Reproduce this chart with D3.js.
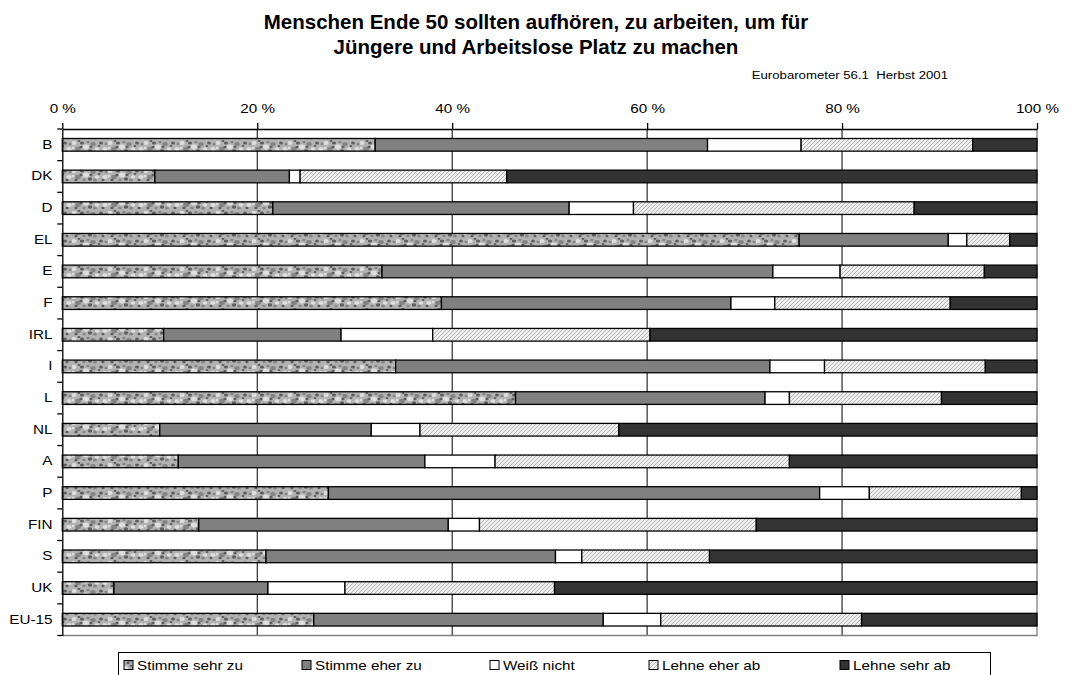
<!DOCTYPE html>
<html>
<head>
<meta charset="utf-8">
<script src="https://cdn.jsdelivr.net/npm/d3@7/dist/d3.min.js"></script>
<style>
  html, body { margin: 0; padding: 0; background: #ffffff; }
  svg { display: block; font-family: "Liberation Sans", Arial, sans-serif; }
</style>
</head>
<body>
<svg id="chart" width="1073" height="675"></svg>
<script>
// ---------- data ----------
const categories = ["B","DK","D","EL","E","F","IRL","I","L","NL","A","P","FIN","S","UK","EU-15"];
const seriesNames = ["Stimme sehr zu","Stimme eher zu","Weiß nicht","Lehne eher ab","Lehne sehr ab"];
const stimmeSehrZu = [32.1, 9.5,21.6,75.6,32.8,38.9,10.4,34.2,46.5,10.0,11.9,27.3,14.0,20.9, 5.3,25.8];
const stimmeEherZu = [34.1,13.8,30.4,15.3,40.1,29.7,18.2,38.4,25.6,21.7,25.3,50.4,25.6,29.7,15.8,29.7];
const weissNicht   = [ 9.6, 1.1, 6.6, 1.9, 6.9, 4.5, 9.4, 5.6, 2.5, 5.0, 7.2, 5.1, 3.2, 2.7, 7.9, 5.9];
const lehneEherAb  = [17.6,21.2,28.8, 4.4,14.8,18.0,22.3,16.5,15.6,20.4,30.2,15.6,28.4,13.1,21.5,20.6];
const lehneSehrAb  = [ 6.6,54.4,12.6, 2.8, 5.4, 8.9,39.7, 5.3, 9.8,42.9,25.4, 1.6,28.8,33.6,49.5,18.0];
const tickValues = [0,20,40,60,80,100];
const titleLines = ["Menschen Ende 50 sollten aufhören, zu arbeiten, um für","Jüngere und Arbeitslose Platz zu machen"];
const subtitle = "Eurobarometer 56.1  Herbst 2001";

const seriesValues = [stimmeSehrZu, stimmeEherZu, weissNicht, lehneEherAb, lehneSehrAb];
const table = categories.map((c, i) => {
  const row = { cat: c };
  seriesNames.forEach((s, j) => row[s] = seriesValues[j][i]);
  return row;
});

// ---------- layout ----------
const svg = d3.select("#chart");
const pL = 62.3, pR = 1037, pT = 129, pB = 635.5;
const SX = 1.22; // horizontal stretch of the reference's text

const x = d3.scaleLinear().domain([0,100]).range([pL,pR]);
const y = d3.scaleBand().domain(categories).range([pT,pB]).paddingInner(0.6).paddingOuter(0.3);

// ---------- patterns ----------
const defs = svg.append("defs");
const gran = defs.append("pattern").attr("id","granite").attr("patternUnits","userSpaceOnUse")
  .attr("width",36).attr("height",14);
gran.append("rect").attr("width",36).attr("height",14).attr("fill","#b2b2b2");
const cDark = "#5e5e5e", cMid = "#858585", cLight = "#dedede";
const spots = [[2,3,2.0,cLight],[6,9,2.2,cMid],[10,3,1.6,cDark],[14,7,2.4,cLight],[18,11,1.7,cDark],
  [21,4,2.1,cMid],[25,9,1.8,cLight],[29,3,1.5,cDark],[33,9,2.0,cLight],[4,12,1.3,cDark],[9,7,1.2,cDark],
  [16,2,1.3,cMid],[23,12,1.5,cMid],[19,7,1.2,cDark],[1,8,1.2,cLight],[12,12,1.3,cMid],[31,12,1.2,cDark],
  [27,6,1.1,cDark],[34,4,1.2,cMid],[7,1,1.1,cDark]];
gran.selectAll("ellipse").data(spots).join("ellipse")
  .attr("cx",d=>d[0]).attr("cy",d=>d[1]).attr("rx",d=>d[2]*1.3).attr("ry",d=>d[2]).attr("fill",d=>d[3]);

const hatch = defs.append("pattern").attr("id","hatch").attr("patternUnits","userSpaceOnUse")
  .attr("width",4).attr("height",4);
hatch.append("rect").attr("width",4).attr("height",4).attr("fill","#eeeeee");
hatch.append("path").attr("d","M-1,1 l2,-2 M0,4 l4,-4 M3,5 l2,-2").attr("stroke","#b0b0b0").attr("stroke-width",0.9);

const fills = ["url(#granite)","#808080","#ffffff","url(#hatch)","#333333"];

// ---------- title ----------
svg.append("g").selectAll("text").data(titleLines).join("text")
  .attr("x",536).attr("y",(d,i)=>29 + i*25)
  .attr("text-anchor","middle").attr("font-weight","bold").attr("font-size","20.5px").attr("fill","#000")
  .text(d=>d);
svg.append("text").attr("transform",`translate(948,79) scale(1.2,1)`)
  .style("white-space","pre")
  .attr("text-anchor","end").attr("font-size","11px").attr("fill","#000").text(subtitle);

// ---------- grid ----------
svg.append("g").selectAll("line").data(tickValues.filter(v=>v>0 && v<100)).join("line")
  .attr("x1",d=>x(d)).attr("x2",d=>x(d)).attr("y1",pT).attr("y2",pB)
  .attr("stroke","#000").attr("stroke-width",1);
svg.append("path").attr("d",`M${pL},${pB}H${pR}V${pT}`).attr("fill","none")
  .attr("stroke","#808080").attr("stroke-width",1.3);

// ---------- bars ----------
const stack = d3.stack().keys(seriesNames)(table);
svg.append("g").selectAll("g").data(stack).join("g")
  .attr("fill",(d,i)=>fills[i])
  .selectAll("rect").data(d=>d).join("rect")
  .attr("x",d=>x(d[0])).attr("width",d=>x(d[1])-x(d[0]))
  .attr("y",d=>y(d.data.cat)).attr("height",y.bandwidth())
  .attr("stroke","#000").attr("stroke-width",1.3);

// ---------- axes ----------
const xAxis = svg.append("g").attr("transform",`translate(0,${pT})`)
  .call(d3.axisTop(x).tickValues(tickValues).tickFormat(d=>d+" %").tickSize(6).tickSizeOuter(0).tickPadding(10.5));
xAxis.selectAll("text").attr("font-size","12.5px").attr("fill","#000")
  .attr("font-family","Liberation Sans, Arial, sans-serif")
  .attr("transform",`scale(${SX},1)`);
xAxis.selectAll("line,path").attr("stroke","#000").attr("stroke-width",1.3);

const yAxis = svg.append("g").attr("transform",`translate(${pL},0)`)
  .call(d3.axisLeft(y).tickSize(0).tickPadding(8));
yAxis.selectAll("text").attr("font-size","12.5px").attr("fill","#000")
  .attr("font-family","Liberation Sans, Arial, sans-serif")
  .attr("transform",`scale(${SX},1)`);
yAxis.select("path").attr("stroke","#000").attr("stroke-width",1.3);
const step = y.step();
yAxis.append("g").selectAll("line").data(d3.range(categories.length+1)).join("line")
  .attr("x1",-5).attr("x2",0)
  .attr("y1",i=>pT + i*step).attr("y2",i=>pT + i*step)
  .attr("stroke","#000").attr("stroke-width",1.3);

// ---------- legend ----------
const legendX = [124, 302, 490, 649, 840];
const lg = svg.append("g");
lg.append("rect").attr("x",118.5).attr("y",652.5).attr("width",872).attr("height",30)
  .attr("fill","#fff").attr("stroke","#000").attr("stroke-width",1);
const items = lg.selectAll("g.item").data(seriesNames).join("g").attr("class","item")
  .attr("transform",(d,i)=>`translate(${legendX[i]},665)`);
items.append("rect").attr("x",0).attr("y",-4.5).attr("width",9).attr("height",9)
  .attr("fill",(d,i)=>fills[i]).attr("stroke","#000").attr("stroke-width",1);
items.append("text").attr("transform",`translate(13,4.5) scale(${SX},1)`)
  .attr("font-size","12.5px").attr("fill","#000").text(d=>d);
</script>
</body>
</html>
